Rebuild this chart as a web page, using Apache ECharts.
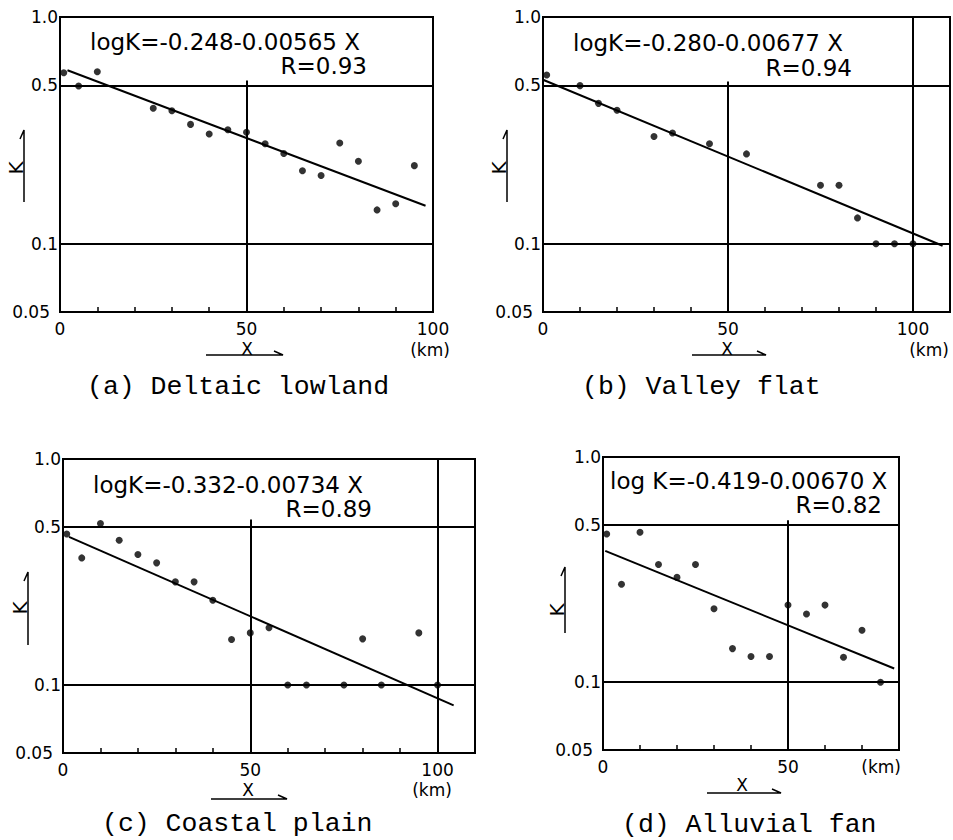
<!DOCTYPE html>
<html>
<head>
<meta charset="utf-8">
<title>K vs distance X</title>
<script src="https://cdn.jsdelivr.net/npm/echarts@6.0.0/dist/echarts.min.js"></script>
<style>
  html, body { margin: 0; padding: 0; background: #fff; }
  #main { width: 953px; height: 840px; }
</style>
</head>
<body>
<div id="main"></div>
<script>
// (a) Deltaic lowland
var distA = [1, 5, 10, 25, 30, 35, 40, 45, 50, 55, 60, 65, 70, 75, 80, 85, 90, 95];
var kA = [0.568, 0.496, 0.574, 0.396, 0.386, 0.336, 0.305, 0.318, 0.310, 0.276, 0.250, 0.210, 0.200, 0.278, 0.231, 0.141, 0.150, 0.221];
var fitA = [[2, 0.582], [98, 0.147]];
// (b) Valley flat
var distB = [1, 10, 15, 20, 30, 35, 45, 55, 75, 80, 85, 90, 95, 100];
var kB = [0.555, 0.498, 0.416, 0.388, 0.297, 0.308, 0.276, 0.249, 0.181, 0.181, 0.130, 0.100, 0.100, 0.100];
var fitB = [[0, 0.529], [108, 0.098]];
// (c) Coastal plain
var distC = [1, 5, 10, 15, 20, 25, 30, 35, 40, 45, 50, 55, 60, 65, 75, 80, 85, 95, 100];
var kC = [0.466, 0.365, 0.518, 0.437, 0.378, 0.347, 0.286, 0.286, 0.237, 0.159, 0.170, 0.179, 0.100, 0.100, 0.100, 0.160, 0.100, 0.170, 0.100];
var fitC = [[1.6, 0.452], [104.3, 0.0813]];
// (d) Alluvial fan
var distD = [1, 5, 10, 15, 20, 25, 30, 35, 40, 45, 50, 55, 60, 65, 70, 75];
var kD = [0.455, 0.272, 0.463, 0.333, 0.292, 0.333, 0.212, 0.141, 0.130, 0.130, 0.220, 0.201, 0.220, 0.129, 0.170, 0.100];
var fitD = [[0.6, 0.383], [78.7, 0.115]];

var equations = ['logK=-0.248-0.00565 X', 'logK=-0.280-0.00677 X', 'logK=-0.332-0.00734 X', 'log K=-0.419-0.00670 X'];
var rValues = ['R=0.93', 'R=0.94', 'R=0.89', 'R=0.82'];
var captions = ['(a) Deltaic lowland', '(b) Valley flat', '(c) Coastal plain', '(d) Alluvial fan'];
var xMax = [100, 110, 110, 80];
var yTicks = [0.05, 0.1, 0.5, 1];

var dists = [distA, distB, distC, distD];
var ks = [kA, kB, kC, kD];
var fits = [fitA, fitB, fitC, fitD];

// layout of each panel (pixels)
var panels = [
  { grid: [60, 17, 373, 295], eq: [90, 42], r: [367, 66], cap: [87, 387],
    kArrow: [24, 130, 202], kText: [16, 168], xArrow: [206, 283, 355], xText: [247, 349], km: [430, 350, 'center'], v100: false, top50: 0.525 },
  { grid: [543, 17, 408, 295], eq: [573, 43], r: [852, 68], cap: [582, 387],
    kArrow: [507, 130, 202], kText: [499, 168], xArrow: [692, 766, 355], xText: [727, 349], km: [929, 350, 'center'], v100: true, top50: 0.52 },
  { grid: [63, 459, 412, 294], eq: [93, 485], r: [372, 509], cap: [102, 824],
    kArrow: [28, 572, 645], kText: [20, 608], xArrow: [211, 287, 799], xText: [248, 790], km: [432, 790, 'center'], v100: true, top50: 0.54 },
  { grid: [603, 457, 296, 293], eq: [610, 481], r: [882, 505], cap: [622, 825],
    kArrow: [565, 567, 633], kText: [557, 610], xArrow: [707, 781, 793], xText: [742, 785], km: [901, 767, 'right'], v100: false, top50: 0.524 }
];

var sans = '"DejaVu Sans", "Liberation Sans", sans-serif';
var mono = '"Courier New", "Liberation Mono", monospace';

var grids = [], xAxes = [], yAxes = [], series = [], graphics = [];

panels.forEach(function (p, i) {
  grids.push({
    left: p.grid[0], top: p.grid[1], width: p.grid[2], height: p.grid[3],
    show: true, borderColor: '#000', borderWidth: 2, backgroundColor: 'transparent'
  });
  xAxes.push({
    type: 'value', gridIndex: i, min: 0, max: xMax[i], interval: 10,
    axisLine: { show: false },
    axisTick: { show: true, inside: true, length: 5, lineStyle: { color: '#000', width: 1.5 } },
    splitLine: { show: false },
    axisLabel: {
      margin: 8, color: '#000', fontSize: 17, fontFamily: sans,
      formatter: function (v) { return v % 50 === 0 ? String(v) : ''; }
    }
  });
  yAxes.push({
    type: 'log', logBase: 10, gridIndex: i, min: 0.05, max: 1,
    axisLine: { show: false },
    axisTick: { show: false },
    splitLine: { show: false },
    axisLabel: {
      customValues: yTicks, margin: 2, color: '#000', fontSize: 17, fontFamily: sans,
      formatter: function (v) {
        if (Math.abs(v - 0.05) < 1e-6) return '{s|0.05}';
        if (Math.abs(v - 1) < 1e-6) return '1.0';
        return String(+v.toFixed(2));
      },
      rich: { s: { fontSize: 17, fontFamily: sans, color: '#000', padding: [0, 8, 0, 0] } }
    }
  });

  var gridLines = [
    { yAxis: 0.5 },
    { yAxis: 0.1 },
    [{ coord: [50, 0.05] }, { coord: [50, p.top50] }]
  ];
  if (p.v100) gridLines.push({ xAxis: 100 });

  series.push({
    type: 'scatter', xAxisIndex: i, yAxisIndex: i,
    symbolSize: 7, itemStyle: { color: '#000' },
    data: dists[i].map(function (d, j) { return [d, ks[i][j]]; }),
    silent: true,
    markLine: {
      silent: true, symbol: ['none', 'none'], label: { show: false },
      lineStyle: { color: '#000', width: 2, type: 'solid' },
      data: gridLines
    }
  });
  series.push({
    type: 'line', xAxisIndex: i, yAxisIndex: i,
    showSymbol: false, silent: true,
    lineStyle: { color: '#000', width: 2 },
    data: fits[i]
  });

  // equation text
  graphics.push({ type: 'text', x: p.eq[0], y: p.eq[1],
    style: { text: equations[i], fontSize: 23, fontFamily: sans, fill: '#000', align: 'left', verticalAlign: 'middle' } });
  graphics.push({ type: 'text', x: p.r[0], y: p.r[1],
    style: { text: rValues[i], fontSize: 23, fontFamily: sans, fill: '#000', align: 'right', verticalAlign: 'middle' } });
  // caption
  graphics.push({ type: 'text', x: p.cap[0], y: p.cap[1],
    style: { text: captions[i], fontSize: 26.5, fontFamily: mono, fill: '#000', align: 'left', verticalAlign: 'middle' } });
  // K arrow
  graphics.push({ type: 'polyline',
    shape: { points: [[p.kArrow[0], p.kArrow[2]], [p.kArrow[0], p.kArrow[1]], [p.kArrow[0] - 4, p.kArrow[1] + 9]] },
    style: { stroke: '#000', lineWidth: 1.5, fill: null } });
  graphics.push({ type: 'text', x: p.kText[0], y: p.kText[1], rotation: Math.PI / 2,
    style: { text: 'K', fontSize: 20, fontFamily: sans, fill: '#000', align: 'center', verticalAlign: 'middle' } });
  // X arrow
  graphics.push({ type: 'polyline',
    shape: { points: [[p.xArrow[0], p.xArrow[2]], [p.xArrow[1], p.xArrow[2]], [p.xArrow[1] - 9, p.xArrow[2] - 4]] },
    style: { stroke: '#000', lineWidth: 1.5, fill: null } });
  graphics.push({ type: 'text', x: p.xText[0], y: p.xText[1],
    style: { text: 'X', fontSize: 17, fontFamily: sans, fill: '#000', align: 'center', verticalAlign: 'middle' } });
  // unit
  graphics.push({ type: 'text', x: p.km[0], y: p.km[1],
    style: { text: '(km)', fontSize: 17, fontFamily: sans, fill: '#000', align: p.km[2], verticalAlign: 'middle' } });
});

var chart = echarts.init(document.getElementById('main'), null, { renderer: 'svg' });
chart.setOption({
  backgroundColor: '#fff',
  animation: false,
  grid: grids,
  xAxis: xAxes,
  yAxis: yAxes,
  series: series,
  graphic: graphics
});
</script>
</body>
</html>
